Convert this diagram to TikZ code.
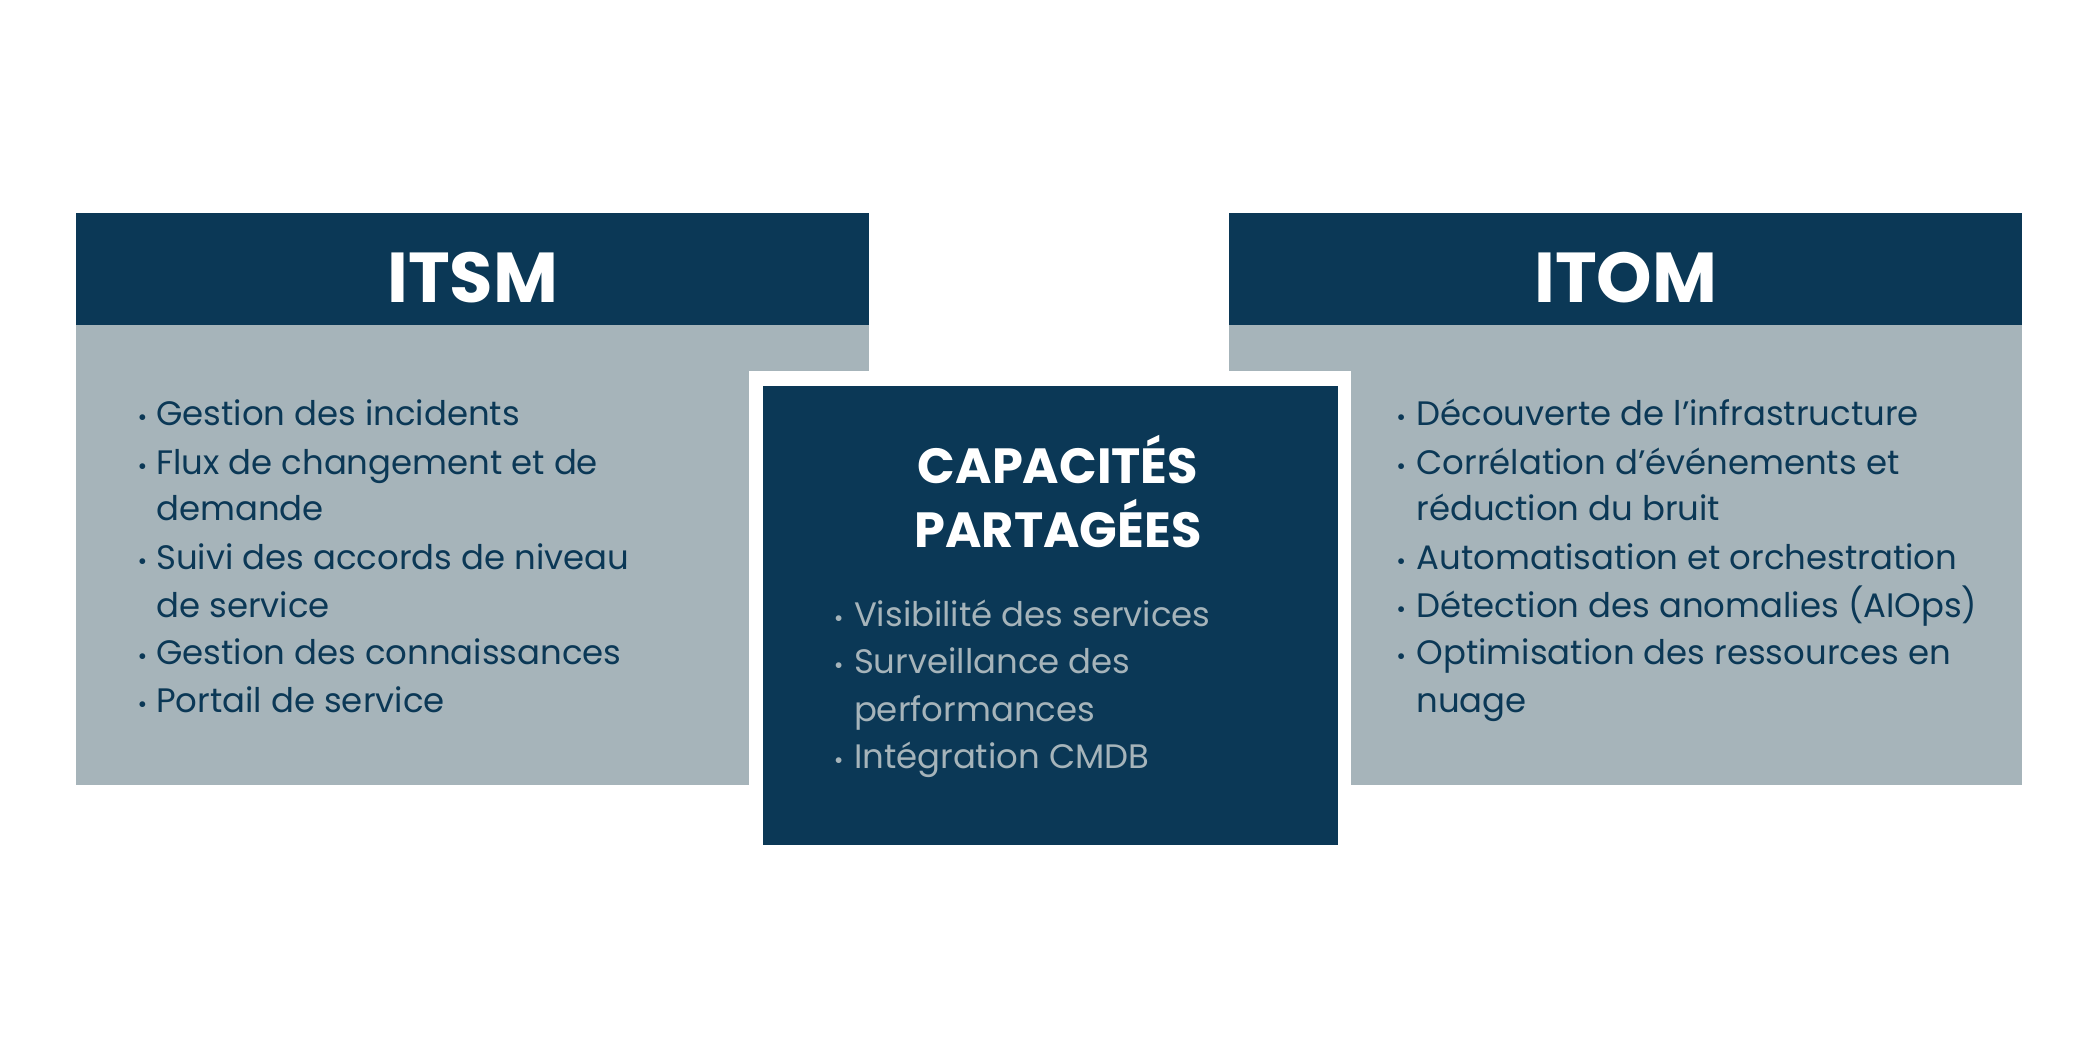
\documentclass[tikz,border=0pt]{standalone}
\usepackage{fontspec}
\setmainfont{Poppins}
\usetikzlibrary{positioning}
\definecolor{navy}{HTML}{0B3856}
\definecolor{slate}{HTML}{A6B4BA}
\tikzset{
  head/.style={font=\fontsize{15}{18}\selectfont\bfseries, text=white},
  item/.style={anchor=base west, inner sep=0pt, font=\fontsize{7.2}{9}\selectfont},
  dot/.style={anchor=base west, inner sep=0pt, font=\fontsize{5}{6}\selectfont}
}
\begin{document}
\begin{tikzpicture}[x=0.01cm,y=-0.01cm]
  \useasboundingbox[fill=white] (0,0) rectangle (1568,792);
  % side panels
  \fill[slate] (57,243) rectangle (649,586);
  \fill[navy] (57,159) rectangle (649,243);
  \fill[slate] (918,243) rectangle (1510,586);
  \fill[navy] (918,159) rectangle (1510,243);
  \node[head] (itsm) at (353,207) {ITSM};
  \node[head] (itom) at (1214,207) {ITOM};
  % centre panel
  \fill[white] (559,277) rectangle (1009,641);
  \fill[navy] (570,288) rectangle (999,631);
  \node[head, font=\fontsize{10.5}{13.5}\selectfont\bfseries, align=center] (shared) at (790,367) {CAPACITÉS\\PARTAGÉES};
  % ITSM list
  \foreach \y/\b/\t in {318/1/Gestion des incidents, 354/1/Flux de changement et de, 389/0/demande,
    425/1/Suivi des accords de niveau, 461/0/de service, 496/1/Gestion des connaissances,
    532/1/Portail de service / Self-service}{
    \ifnum\b=1 \node[dot, text=navy] at (102,\y) {•}; \fi
    \node[item, text=navy] at (116,\y) {\t};
  }
  % ITOM list
  \foreach \y/\b/\t in {318/1/Découverte de l'infrastructure, 354/1/Corrélation d'événements et,
    389/0/réduction du bruit, 425/1/Automatisation et orchestration,
    461/1/Détection des anomalies (AIOps), 496/1/Optimisation des ressources en, 532/0/nuage}{
    \ifnum\b=1 \node[dot, text=navy] at (1042,\y) {•}; \fi
    \node[item, text=navy] at (1057,\y) {\t};
  }
  % shared list
  \foreach \y/\b/\t in {468/1/Visibilité des services, 503/1/Surveillance des,
    539/0/performances, 574/1/Intégration CMDB}{
    \ifnum\b=1 \node[dot, text=slate] at (622,\y) {•}; \fi
    \node[item, text=slate] at (637,\y) {\t};
  }
\end{tikzpicture}
\end{document}
